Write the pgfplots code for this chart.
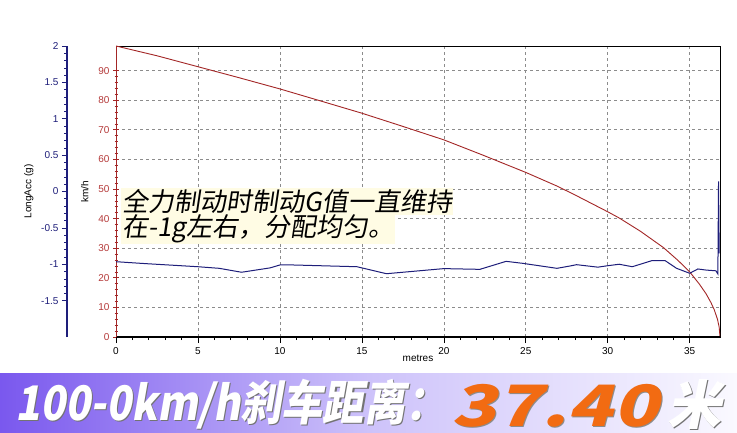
\documentclass[border=0pt]{standalone}
\usepackage{pgfplots}
\pgfplotsset{compat=1.18}
\usepackage{fontspec}
\setmainfont{Liberation Sans}
\newfontfamily\cjk[FakeSlant=0.15]{Noto Sans CJK SC}
\newfontfamily\cjkb[UprightFeatures={FakeSlant=0.2},BoldFeatures={FakeSlant=0.2}]{Noto Sans CJK SC}
\definecolor{navyc}{HTML}{1E1E7A}
\definecolor{spdred}{HTML}{A32626}
\definecolor{lblred}{HTML}{B53A3A}
\definecolor{gridc}{HTML}{8C8C8C}
\definecolor{orng}{HTML}{F26B12}
\definecolor{hl}{HTML}{FFFCE4}
\definecolor{bannerL}{HTML}{7A58EE}
\definecolor{bannerM}{HTML}{CDC2FA}
\definecolor{bannerR}{HTML}{FAF9FF}
\begin{document}
\begin{tikzpicture}[x=1pt,y=1pt]
\useasboundingbox (0,0) rectangle (737,432);
\fill[white] (0,0) rectangle (737,432);
% banner
\shade[left color=bannerL, right color=bannerR, middle color=bannerM] (0,0) rectangle (737,59);

% speed axis (main)
\begin{axis}[
  at={(116pt,95pt)}, anchor=south west, scale only axis,
  width=604pt, height=291pt,
  xmin=0, xmax=36.85, ymin=0, ymax=98.3,
  xtick={0,5,...,35}, minor x tick num=4,
  ytick={0,10,...,90}, minor y tick num=4,
  xtick pos=bottom, ytick pos=left,
  x tick style={black, line width=0.6pt},
  y tick style={spdred, line width=0.6pt},
  xtick align=outside, ytick align=center,
  major tick length=6pt, minor tick length=3pt,
  grid=major, major grid style={gridc, dashed, line width=0.6pt},
  axis line style={black, line width=0.8pt},
  /pgf/number format/assume math mode=true,
  tick label style={font=\fontsize{10}{12}\selectfont},
  xticklabel style={black, yshift=-1pt},
  yticklabel style={lblred},
  xlabel={metres}, xlabel style={font=\fontsize{10}{12}\selectfont, yshift=6pt},
  ylabel={km/h}, ylabel style={font=\fontsize{10}{12}\selectfont, lblred},
  every axis y label/.style={at={(axis description cs:0,0.5)}, xshift=-24pt, rotate=90, anchor=south},
]
\addplot[spdred, line width=0.9pt] coordinates {
(0,98.3) (2.5,95.0) (5,91.3) (7.5,87.6) (10,83.8) (12.2,80.2) (15,75.6) (17.3,71.5)
(20,66.6) (22.4,61.4) (25,55.6) (26.9,51.0) (28,48.0) (30,42.3) (30.7,40.2) (32,35.7)
(33.4,30.2) (34.3,25.8) (35,22.0) (35.6,17.8) (36,14.6) (36.3,11.6) (36.5,9.2)
(36.7,5.9) (36.8,3.3) (36.85,0)
};
\draw[black, line width=2.4pt] (rel axis cs:0,0) -- (rel axis cs:1,0);
\draw[spdred, line width=1.4pt] (rel axis cs:0,0) -- (rel axis cs:0,1);
\end{axis}

% LongAcc data axis
\begin{axis}[
  at={(116pt,95pt)}, anchor=south west, scale only axis,
  width=604pt, height=291pt,
  xmin=0, xmax=36.85, ymin=-2, ymax=2,
  hide axis,
]
\addplot[navyc, line width=1pt] coordinates {
(0,-0.965) (1.7,-0.99) (5,-1.034) (6.3,-1.056) (7.66,-1.11) (9.4,-1.05) (10,-1.01)
(10.8,-1.01) (14.7,-1.034) (16.5,-1.13) (18.5,-1.09) (20,-1.06) (22.2,-1.07)
(23.8,-0.96) (24.8,-0.987) (26.9,-1.056) (27.7,-1.024) (28.1,-1.006) (29.4,-1.04)
(30,-1.02) (30.7,-1.0) (31.5,-1.034) (32.7,-0.95) (33.5,-0.95) (34.2,-1.056)
(35,-1.124) (35.5,-1.065) (36,-1.08) (36.6,-1.09) (36.72,-1.134) (36.76,0.14) (36.8,-0.85)
};
\end{axis}

% LongAcc scale axis
\begin{axis}[
  at={(67pt,95pt)}, anchor=south west, scale only axis,
  width=10pt, height=291pt,
  xmin=0, xmax=1, ymin=-2, ymax=2,
  axis y line*=left, axis x line=none,
  ytick={-1.5,-1,...,2}, minor y tick num=4,
  ytick align=outside,
  major tick length=5pt, minor tick length=2.5pt,
  y axis line style={navyc, line width=1.8pt},
  y tick style={navyc, line width=0.6pt},
  /pgf/number format/assume math mode=true,
  tick label style={font=\fontsize{10}{12}\selectfont, navyc},
  ylabel={LongAcc (g)}, ylabel style={font=\fontsize{10}{12}\selectfont, navyc},
  every axis y label/.style={at={(axis description cs:0,0.5)}, xshift=-30pt, rotate=90, anchor=south},
]
\addplot[draw=none] coordinates {(0,0)};
\end{axis}

% annotation
\node[anchor=west, fill=hl, inner sep=1pt, font=\cjk\fontsize{26}{28}\selectfont] at (121,230.5) {全力制动时制动G值一直维持};
\node[anchor=west, fill=hl, inner sep=1pt, font=\cjk\fontsize{26}{28}\selectfont] at (121,203.5) {在-1g左右，分配均匀。};

% banner text
\node[anchor=south west, inner sep=0, text=black!55] at (16.2,1.2) {\resizebox*{431pt}{50pt}{\cjkb\bfseries 100-0km/h刹车距离：}};
\node[anchor=south west, inner sep=0, text=white] at (15,2.4) {\resizebox*{431pt}{50pt}{\cjkb\bfseries 100-0km/h刹车距离：}};
\node[anchor=south west, inner sep=0, text=black!45] at (452.2,3.2) {\resizebox*{207pt}{43pt}{\cjkb\bfseries 37.40}};
\node[anchor=south west, inner sep=0, text=orng] at (451,4.4) {\resizebox*{207pt}{43pt}{\cjkb\bfseries 37.40}};
\node[anchor=south west, inner sep=0, text=black!55] at (668.2,1.2) {\resizebox*{54pt}{50pt}{\cjkb\bfseries 米}};
\node[anchor=south west, inner sep=0, text=white] at (667,2.4) {\resizebox*{54pt}{50pt}{\cjkb\bfseries 米}};
\end{tikzpicture}
\end{document}
